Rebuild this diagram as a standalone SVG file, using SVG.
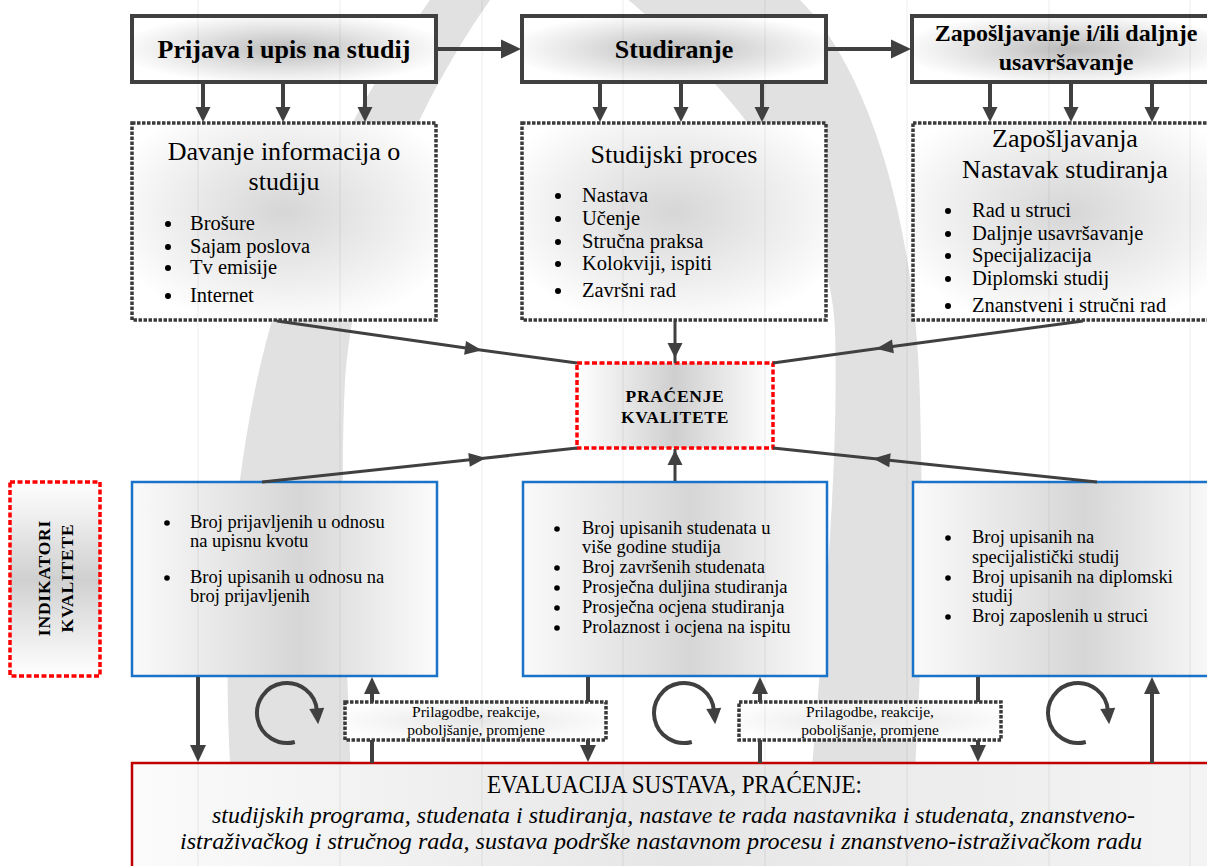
<svg xmlns="http://www.w3.org/2000/svg" width="1207" height="866" viewBox="0 0 1207 866">
<defs>
<radialGradient id="gTop" cx="50%" cy="50%" r="55%">
<stop offset="0" stop-color="#bcbcbc"/><stop offset="0.55" stop-color="#e2e2e2"/><stop offset="1" stop-color="#ffffff"/>
</radialGradient>
<radialGradient id="gDot" cx="50%" cy="45%" r="60%">
<stop offset="0" stop-color="#d6d6d6"/><stop offset="0.7" stop-color="#f2f2f2"/><stop offset="1" stop-color="#ffffff"/>
</radialGradient>
<radialGradient id="gPril" cx="50%" cy="50%" r="60%">
<stop offset="0" stop-color="#e6e6e6"/><stop offset="1" stop-color="#ffffff"/>
</radialGradient>
<linearGradient id="gH" x1="0" y1="0" x2="1" y2="0">
<stop offset="0" stop-color="#fafafa"/><stop offset="0.55" stop-color="#d6d6d6"/><stop offset="1" stop-color="#fcfcfc"/>
</linearGradient>
<linearGradient id="gP" x1="0" y1="0" x2="1" y2="0">
<stop offset="0" stop-color="#ffffff"/><stop offset="0.5" stop-color="#cfcfcf"/><stop offset="1" stop-color="#ffffff"/>
</linearGradient>
<linearGradient id="gV" x1="0" y1="0" x2="0" y2="1">
<stop offset="0" stop-color="#ffffff"/><stop offset="0.5" stop-color="#d0d0d0"/><stop offset="1" stop-color="#ffffff"/>
</linearGradient>
<linearGradient id="gE" x1="0" y1="0" x2="1" y2="0">
<stop offset="0" stop-color="#fbfbfb"/><stop offset="0.5" stop-color="#e6e6e6"/><stop offset="1" stop-color="#f4f4f4"/>
</linearGradient>
<marker id="ahL" markerUnits="userSpaceOnUse" markerWidth="20" markerHeight="20" refX="10" refY="9.5" orient="auto" overflow="visible">
<path d="M0,0 L20,9.5 L0,19 Z" fill="#404040"/>
</marker>
<marker id="ahM" markerUnits="userSpaceOnUse" markerWidth="16" markerHeight="16" refX="7" refY="7.5" orient="auto" overflow="visible">
<path d="M0,0 L15,7.5 L0,15 Z" fill="#404040"/>
</marker>
<marker id="ahB" markerUnits="userSpaceOnUse" markerWidth="18" markerHeight="18" refX="8" refY="8" orient="auto" overflow="visible">
<path d="M0,0 L17,8 L0,16 Z" fill="#404040"/>
</marker>
<marker id="ahS" markerUnits="userSpaceOnUse" markerWidth="18" markerHeight="16" refX="8" refY="7" orient="auto" overflow="visible">
<path d="M0,0 L17,7 L0,14 Z" fill="#404040"/>
</marker>
<marker id="ahC" markerUnits="userSpaceOnUse" markerWidth="18" markerHeight="16" refX="2" refY="7.5" orient="auto" overflow="visible">
<path d="M0,0 L16,7.5 L0,15 Z" fill="#404040"/>
</marker>
<style>
.t{font-family:'Liberation Serif','DejaVu Serif',serif;fill:#000}
.b{font-weight:bold}
.mid{text-anchor:middle}
.h1{font-size:26px}
.h3{font-size:24px}
.ti{font-size:26px}
.li{font-size:20.5px}
.lb{font-size:18.5px}
.pr{font-size:15.5px}
.top{fill:url(#gTop);stroke:#404040;stroke-width:4}
.dot{fill:url(#gDot);stroke:#3a3a3a;stroke-width:3.5;stroke-dasharray:3.5 1.5}
.blue{fill:url(#gH);stroke:#1a73c8;stroke-width:2.5}
.red{stroke:#ff0000;stroke-width:3.5;stroke-dasharray:5 2.5}
.pril{fill:url(#gPril);stroke:#3a3a3a;stroke-width:3.5;stroke-dasharray:3.5 1.5}
.c{fill:none;stroke:#404040;stroke-width:4}
.cd{fill:none;stroke:#404040;stroke-width:3}
.bul{fill:#000}
.grid{stroke:#000;stroke-opacity:0.07;stroke-width:1}
</style>
</defs>
<rect width="1207" height="866" fill="#ffffff"/>
<path id="ring" fill="#e1e1e1" fill-rule="evenodd" d="M430,0 C480,-60 740,-60 800,0 C860,60 915,200 920,400 C925,600 920,760 905,866 L240,866 C225,760 222,620 240,480 C258,340 300,180 430,0 Z M490,0 C520,-40 600,-30 640,10 C720,80 830,200 835,330 C840,500 815,700 805,866 L353,866 C350,700 338,520 345,380 C355,240 420,100 490,0 Z"/>

<g id="box-prijava">
<rect class="top" x="132" y="16" width="304" height="66"/>
<text class="t b h1 mid" x="284" y="58">Prijava i upis na studij</text>
</g>
<g id="box-studiranje">
<rect class="top" x="522" y="16" width="304" height="66"/>
<text class="t b h1 mid" x="674" y="58">Studiranje</text>
</g>
<g id="box-zaposljavanje">
<rect class="top" x="912" y="16" width="310" height="66"/>
<text class="t b h3 mid" x="1066" y="41">Zapošljavanje i/ili daljnje</text>
<text class="t b h3 mid" x="1066" y="70">usavršavanje</text>
</g>

<g id="box-davanje">
<rect class="dot" x="132" y="123" width="304" height="197"/>
<text class="t ti mid" x="284" y="160">Davanje informacija o</text>
<text class="t ti mid" x="284" y="190">studiju</text>
<circle class="bul" cx="168" cy="224" r="3"/><text class="t li" x="190" y="230">Brošure</text>
<circle class="bul" cx="168" cy="247" r="3"/><text class="t li" x="190" y="253">Sajam poslova</text>
<circle class="bul" cx="168" cy="268" r="3"/><text class="t li" x="190" y="274">Tv emisije</text>
<circle class="bul" cx="168" cy="296" r="3"/><text class="t li" x="190" y="302">Internet</text>
</g>
<g id="box-studijski">
<rect class="dot" x="522" y="123" width="304" height="197"/>
<text class="t ti mid" x="674" y="163">Studijski proces</text>
<circle class="bul" cx="558" cy="196" r="3"/><text class="t li" x="582" y="202">Nastava</text>
<circle class="bul" cx="558" cy="219" r="3"/><text class="t li" x="582" y="225">Učenje</text>
<circle class="bul" cx="558" cy="242" r="3"/><text class="t li" x="582" y="248">Stručna praksa</text>
<circle class="bul" cx="558" cy="264" r="3"/><text class="t li" x="582" y="270">Kolokviji, ispiti</text>
<circle class="bul" cx="558" cy="291" r="3"/><text class="t li" x="582" y="297">Završni rad</text>
</g>
<g id="box-nastavak">
<rect class="dot" x="913" y="123" width="310" height="197"/>
<text class="t ti mid" x="1065" y="147">Zapošljavanja</text>
<text class="t ti mid" x="1065" y="178">Nastavak studiranja</text>
<circle class="bul" cx="948" cy="211" r="3"/><text class="t li" x="972" y="217">Rad u struci</text>
<circle class="bul" cx="948" cy="234" r="3"/><text class="t li" x="972" y="240">Daljnje usavršavanje</text>
<circle class="bul" cx="948" cy="256" r="3"/><text class="t li" x="972" y="262">Specijalizacija</text>
<circle class="bul" cx="948" cy="279" r="3"/><text class="t li" x="972" y="285">Diplomski studij</text>
<circle class="bul" cx="948" cy="306" r="3"/><text class="t li" x="972" y="312">Znanstveni i stručni rad</text>
</g>

<g id="box-pracenje">
<rect class="red" fill="url(#gP)" x="577" y="363" width="196" height="85"/>
<text class="t b mid" font-size="17.5" letter-spacing="0.7" x="675" y="402">PRAĆENJE</text>
<text class="t b mid" font-size="17.5" letter-spacing="0.7" x="675" y="423">KVALITETE</text>
</g>

<g id="box-indikatori">
<rect class="red" fill="url(#gV)" x="10" y="482" width="90" height="194"/>
<text class="t b mid" font-size="17.5" letter-spacing="0.8" transform="translate(50,578) rotate(-90)">INDIKATORI</text>
<text class="t b mid" font-size="17.5" letter-spacing="0.8" transform="translate(73,578) rotate(-90)">KVALITETE</text>
</g>

<g id="box-ind1">
<rect class="blue" x="132" y="482" width="305" height="194"/>
<circle class="bul" cx="167" cy="523" r="2.8"/>
<text class="t lb" x="190" y="528">Broj prijavljenih u odnosu</text>
<text class="t lb" x="190" y="547">na upisnu kvotu</text>
<circle class="bul" cx="167" cy="578" r="2.8"/>
<text class="t lb" x="190" y="583">Broj upisanih u odnosu na</text>
<text class="t lb" x="190" y="602">broj prijavljenih</text>
</g>
<g id="box-ind2">
<rect class="blue" x="523" y="482" width="304" height="194"/>
<circle class="bul" cx="557" cy="529" r="2.8"/>
<text class="t lb" x="582" y="534">Broj upisanih studenata u</text>
<text class="t lb" x="582" y="553">više godine studija</text>
<circle class="bul" cx="557" cy="568" r="2.8"/>
<text class="t lb" x="582" y="573">Broj završenih studenata</text>
<circle class="bul" cx="557" cy="588" r="2.8"/>
<text class="t lb" x="582" y="593">Prosječna duljina studiranja</text>
<circle class="bul" cx="557" cy="608" r="2.8"/>
<text class="t lb" x="582" y="613">Prosječna ocjena studiranja</text>
<circle class="bul" cx="557" cy="628" r="2.8"/>
<text class="t lb" x="582" y="633">Prolaznost i ocjena na ispitu</text>
</g>
<g id="box-ind3">
<rect class="blue" x="913" y="482" width="310" height="194"/>
<circle class="bul" cx="948" cy="538" r="2.8"/>
<text class="t lb" x="972" y="543">Broj upisanih na</text>
<text class="t lb" x="972" y="563">specijalistički studij</text>
<circle class="bul" cx="948" cy="578" r="2.8"/>
<text class="t lb" x="972" y="583">Broj upisanih na diplomski</text>
<text class="t lb" x="972" y="602">studij</text>
<circle class="bul" cx="948" cy="617" r="2.8"/>
<text class="t lb" x="972" y="622">Broj zaposlenih u struci</text>
</g>

<g id="box-prilagodbe1">
<rect class="pril" x="345" y="702" width="261" height="38"/>
<text class="t pr mid" x="476" y="717">Prilagodbe, reakcije,</text>
<text class="t pr mid" x="476" y="735">poboljšanje, promjene</text>
</g>
<g id="box-prilagodbe2">
<rect class="pril" x="739" y="702" width="262" height="38"/>
<text class="t pr mid" x="870" y="717">Prilagodbe, reakcije,</text>
<text class="t pr mid" x="870" y="735">poboljšanje, promjene</text>
</g>

<g id="box-evaluacija">
<rect fill="url(#gE)" stroke="#c00000" stroke-width="2.5" x="132" y="763" width="1090" height="120"/>
<text class="t" font-size="25" x="487" y="793" textLength="375" lengthAdjust="spacingAndGlyphs">EVALUACIJA SUSTAVA, PRAĆENJE:</text>
<text class="t" font-style="italic" font-size="23" x="212" y="823" textLength="923" lengthAdjust="spacingAndGlyphs">studijskih programa, studenata i studiranja, nastave te rada nastavnika i studenata, znanstveno-</text>
<text class="t" font-style="italic" font-size="23" x="180" y="849" textLength="962" lengthAdjust="spacingAndGlyphs">istraživačkog i stručnog rada, sustava podrške nastavnom procesu i znanstveno-istraživačkom radu</text>
</g>

<g id="connectors">
<line class="c" x1="438" y1="49" x2="511" y2="49" marker-end="url(#ahL)"/>
<line class="c" x1="828" y1="49" x2="901" y2="49" marker-end="url(#ahL)"/>
<line class="c" x1="203" y1="84" x2="203" y2="114" marker-end="url(#ahM)"/>
<line class="c" x1="283" y1="84" x2="283" y2="114" marker-end="url(#ahM)"/>
<line class="c" x1="365" y1="84" x2="365" y2="114" marker-end="url(#ahM)"/>
<line class="c" x1="600" y1="84" x2="600" y2="114" marker-end="url(#ahM)"/>
<line class="c" x1="681" y1="84" x2="681" y2="114" marker-end="url(#ahM)"/>
<line class="c" x1="762" y1="84" x2="762" y2="114" marker-end="url(#ahM)"/>
<line class="c" x1="990" y1="84" x2="990" y2="114" marker-end="url(#ahM)"/>
<line class="c" x1="1071" y1="84" x2="1071" y2="114" marker-end="url(#ahM)"/>
<line class="c" x1="1152" y1="84" x2="1152" y2="114" marker-end="url(#ahM)"/>
<path class="cd" d="M675,321 L675,350 L675,363" marker-mid="url(#ahM)"/>
<path class="cd" d="M277,321 L473,349 L577,363" marker-mid="url(#ahS)"/>
<path class="cd" d="M1083,321 L885,347.5 L773,363" marker-mid="url(#ahS)"/>
<path class="cd" d="M675,481 L675,458 L675,449" marker-mid="url(#ahM)"/>
<path class="cd" d="M262,482 L477,459 L577,448" marker-mid="url(#ahS)"/>
<path class="cd" d="M1097,482 L882,459.5 L773,448" marker-mid="url(#ahS)"/>
<line class="c" x1="198" y1="677" x2="198" y2="753" marker-end="url(#ahB)"/>
<line class="c" x1="372" y1="702" x2="372" y2="686" marker-end="url(#ahB)"/>
<line class="c" x1="372" y1="740" x2="372" y2="763"/>
<line class="c" x1="588" y1="677" x2="588" y2="702"/>
<line class="c" x1="588" y1="740" x2="588" y2="753" marker-end="url(#ahB)"/>
<line class="c" x1="760" y1="702" x2="760" y2="686" marker-end="url(#ahB)"/>
<line class="c" x1="760" y1="740" x2="760" y2="763"/>
<line class="c" x1="978" y1="677" x2="978" y2="702"/>
<line class="c" x1="978" y1="740" x2="978" y2="753" marker-end="url(#ahB)"/>
<line class="c" x1="1152" y1="763" x2="1152" y2="686" marker-end="url(#ahB)"/>
<path class="c" d="M294.8,742 A30 30 0 1 1 316.9,710.4" marker-end="url(#ahC)"/>
<path class="c" d="M691.8,742 A30 30 0 1 1 713.9,710.4" marker-end="url(#ahC)"/>
<path class="c" d="M1085.8,742 A30 30 0 1 1 1107.9,710.4" marker-end="url(#ahC)"/>
</g>

<g id="gridlines">
<line class="grid" x1="198" y1="0" x2="198" y2="866"/>
<line class="grid" x1="340" y1="0" x2="340" y2="866"/>
<line class="grid" x1="482" y1="0" x2="482" y2="866"/>
<line class="grid" x1="623" y1="0" x2="623" y2="866"/>
<line class="grid" x1="765" y1="0" x2="765" y2="866"/>
<line class="grid" x1="907" y1="0" x2="907" y2="866"/>
<line class="grid" x1="1049" y1="0" x2="1049" y2="866"/>
<line class="grid" x1="1190" y1="0" x2="1190" y2="866"/>
</g>
</svg>
